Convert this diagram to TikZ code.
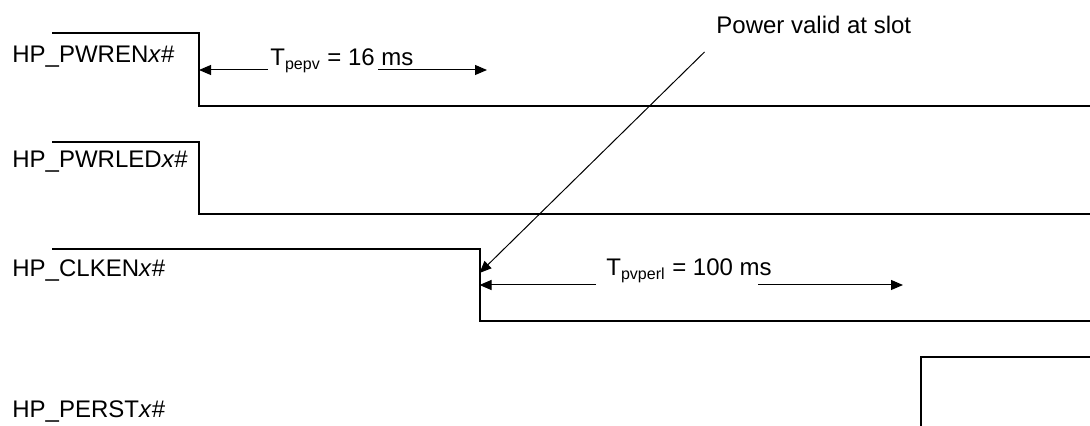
\documentclass[tikz,border=0pt]{standalone}
\usepackage{fontspec}
\setmainfont{Liberation Sans}
\usetikzlibrary{arrows.meta, positioning}

\begin{document}
\begin{tikzpicture}[
    x = 0.5pt, y = -0.5pt,
    font = \fontsize{12}{14}\selectfont,
    signame/.style = {anchor=base west, inner sep=0pt},
    tname/.style = {anchor=base west, inner sep=0pt},
    wave/.style = {line width=1pt, line cap=rect},
    line/.style = {-{Triangle[length=6pt, width=5pt]}, line width=0.5pt}
]
    \useasboundingbox (0,0) rectangle (1090,426);

    % Signal names
    \node [signame] (pwren)  at (12,62.5)  {HP\_PWREN\textit{x}\#};
    \node [signame] (pwrled) at (12,167.5) {HP\_PWRLED\textit{x}\#};
    \node [signame] (clken)  at (12,276.5) {HP\_CLKEN\textit{x}\#};
    \node [signame] (perst)  at (12,417.5) {HP\_PERST\textit{x}\#};

    % Edges of the waveforms
    \coordinate (pwren fall)  at (199,70);
    \coordinate (clken fall)  at (479.5,285);
    \coordinate (clken slot)  at (479.5,273);

    % Waveforms
    \draw [wave] (53,33.5) -- (199,33.5) -- (199,106) -- (1090,106);
    \draw [wave] (53,142.5) -- (199,142.5) -- (199,214) -- (1090,214);
    \draw [wave] (53,249.5) -- (479.5,249.5) -- (479.5,321) -- (1090,321);
    \draw [wave] (921,426) -- (921,357.5) -- (1090,357.5);

    % Timing labels
    \node [tname] (tpepv)   at (270,65.5) {T\textsubscript{pepv} = 16 ms};
    \node [tname] (tpvperl) at (606,276)  {T\textsubscript{pvperl} = 100 ms};
    \node [tname] (pvalid)  at (716,33.3) {Power valid at slot};

    \coordinate (pepv left)   at (268,70);
    \coordinate (pepv right)  at (378,70);
    \coordinate (pepv end)    at (487,70);
    \coordinate (pvperl left)  at (596,285);
    \coordinate (pvperl right) at (758,285);
    \coordinate (pvperl end)   at (903,285);
    \coordinate (pvalid foot)  at (704.5,52);

    % Arrows
    \draw [line] (pepv left) -- (pwren fall);
    \draw [line] (pepv right) -- (pepv end);
    \draw [line] (pvperl left) -- (clken fall);
    \draw [line] (pvperl right) -- (pvperl end);
    \draw [line] (pvalid foot) -- (clken slot);

\end{tikzpicture}
\end{document}
